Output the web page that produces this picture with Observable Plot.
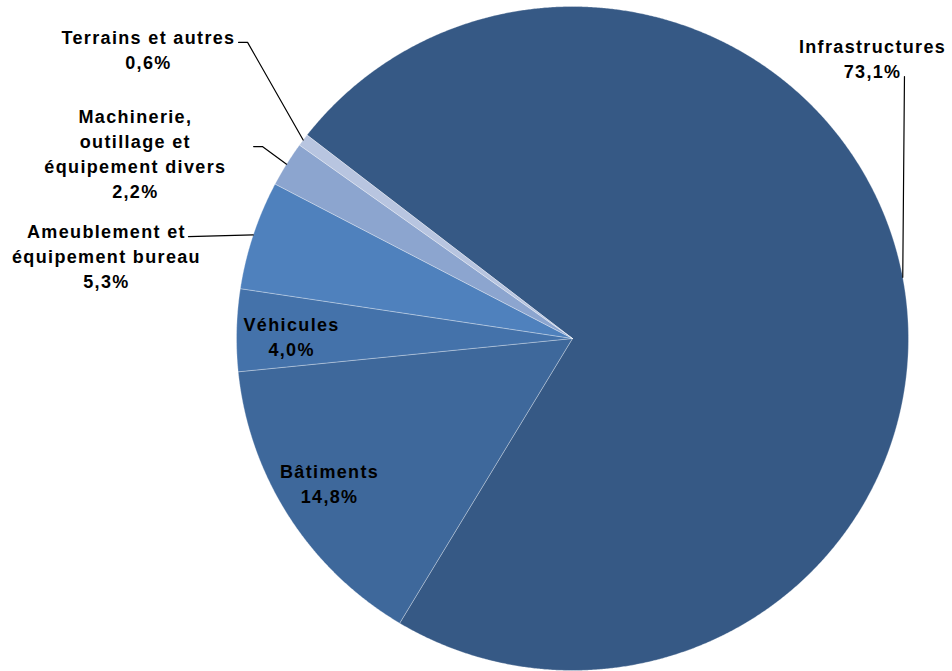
<!DOCTYPE html>
<html><head><meta charset="utf-8">
<script src="https://cdn.jsdelivr.net/npm/d3@7"></script>
<script src="https://cdn.jsdelivr.net/npm/@observablehq/plot@0.6"></script>
<style>
body{margin:0;background:#fff}
#chart svg text{letter-spacing:0.075em}
</style>
</head><body><div id="chart"></div>
<script>
// ---- data ----
const categories = ["Infrastructures", "Bâtiments", "Véhicules", "Ameublement et\néquipement bureau", "Machinerie,\noutillage et\néquipement divers", "Terrains et autres"];
const shares = [73.1, 14.8, 4.0, 5.3, 2.2, 0.6];
const colors = ["#365985", "#3E689B", "#4472AA", "#4F81BD", "#8CA5CF", "#B8C5E0"];

// ---- layout (pie units: radius = 1, y downward) ----
const startAngleDeg = -52.2;
const labelX = [0.893, -0.723, -0.836, -1.387, -1.301, -1.262];
const labelY = [-0.845, 0.434, -0.008, -0.253, -0.559, -0.875];
// leader lines: starting points near labels (null = no leader)
const leaderStart = [[0.988, -0.789], null, null, [-1.143, -0.307], [-0.949, -0.578], [-0.994, -0.892]];
const leaderElbow = [null, null, null, null, [-0.923, -0.578], [-0.967, -0.892]];

const fmt = v => d3.format(".1f")(v).replace(".", ",") + "%";
const total = d3.sum(shares);
const rad = d => d * Math.PI / 180;

// slice geometry from data
const slices = [];
let acc = startAngleDeg;
categories.forEach((c, i) => {
  const a0 = acc, a1 = acc + shares[i] / total * 360;
  acc = a1;
  slices.push({name: c, a0, a1, mid: (a0 + a1) / 2, color: colors[i], i});
});

const slicePts = [];
for (const s of slices) {
  slicePts.push({name: s.name, x: 0, y: 0, color: s.color});
  const n = Math.max(2, Math.ceil((s.a1 - s.a0) / 0.25));
  for (let k = 0; k <= n; k++) {
    const a = rad(s.a0 + (s.a1 - s.a0) * k / n);
    slicePts.push({name: s.name, x: Math.sin(a), y: -Math.cos(a), color: s.color});
  }
  slicePts.push({name: s.name, x: 0, y: 0, color: s.color});
}

const leaderPts = [];
slices.forEach((s, i) => {
  if (!leaderStart[i]) return;
  leaderPts.push({name: s.name, x: leaderStart[i][0], y: leaderStart[i][1]});
  if (leaderElbow[i]) leaderPts.push({name: s.name, x: leaderElbow[i][0], y: leaderElbow[i][1]});
  const a = rad(s.mid);
  leaderPts.push({name: s.name, x: Math.sin(a), y: -Math.cos(a)});
});

const labels = slices.map((s, i) => ({x: labelX[i], y: labelY[i], text: s.name + "\n" + fmt(shares[i])}));

const chart = Plot.plot({
  width: 952,
  height: 671,
  margin: 0,
  x: {domain: [-1, 1], range: [236, 908], axis: null},
  y: {domain: [-1, 1], range: [6, 670], axis: null},
  color: {type: "identity"},
  style: {background: "#fff", overflow: "visible"},
  marks: [
    Plot.line(slicePts, {x: "x", y: "y", z: "name", fill: "color", stroke: "#ffffff", strokeOpacity: 0.3, strokeWidth: 1}),
    Plot.line(leaderPts, {x: "x", y: "y", z: "name", stroke: "#000", strokeWidth: 1.2}),
    Plot.text(labels, {x: "x", y: "y", text: "text", fontSize: 18, fontWeight: "bold", fontFamily: "Liberation Sans, Arial, sans-serif", fill: "#000", lineHeight: 1.39, textAnchor: "middle"})
  ]
});
document.getElementById("chart").appendChild(chart);
</script>
</body></html>
